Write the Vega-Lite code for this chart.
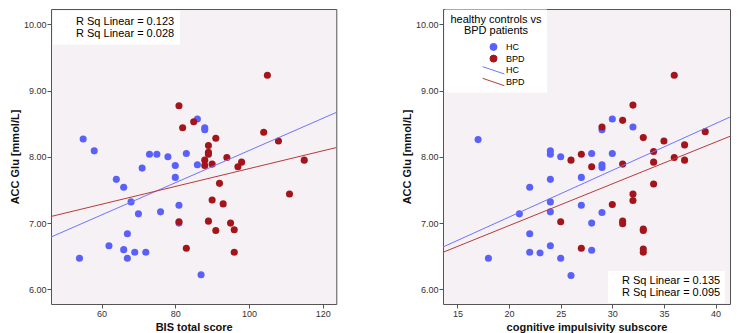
{
  "$schema": "https://vega.github.io/schema/vega-lite/v6.json",
  "padding": {"left": 8, "top": 8, "right": 5, "bottom": 2},
  "config": {
    "font": "Liberation Sans",
    "view": {"fill": "#f6f1f4", "stroke": "#555555", "strokeWidth": 1},
    "axis": {"domain": false, "grid": false, "tickColor": "#555555", "tickSize": 4, "labelFontSize": 9, "labelColor": "#333333", "labelPadding": 1, "titleFontSize": 11, "titleFontWeight": "bold", "titleColor": "#111111", "titlePadding": 3},
    "legend": {"labelFont": "Liberation Sans", "titleFont": "Liberation Sans", "labelColor": "black", "titleColor": "black"}
  },
  "datasets": {
    "bis": [
      {"group": "HC", "score": 54, "glu": 6.47}, {"group": "HC", "score": 55, "glu": 8.27}, {"group": "HC", "score": 58, "glu": 8.09}, {"group": "HC", "score": 62, "glu": 6.66},
      {"group": "HC", "score": 64, "glu": 7.66}, {"group": "HC", "score": 66, "glu": 7.54}, {"group": "HC", "score": 66, "glu": 6.60}, {"group": "HC", "score": 67, "glu": 6.84},
      {"group": "HC", "score": 67, "glu": 6.47}, {"group": "HC", "score": 68, "glu": 7.32}, {"group": "HC", "score": 69, "glu": 6.56}, {"group": "HC", "score": 70, "glu": 7.14},
      {"group": "HC", "score": 71, "glu": 7.83}, {"group": "HC", "score": 72, "glu": 6.56}, {"group": "HC", "score": 73, "glu": 8.04}, {"group": "HC", "score": 75, "glu": 8.04},
      {"group": "HC", "score": 76, "glu": 7.17}, {"group": "HC", "score": 78, "glu": 8.00}, {"group": "HC", "score": 80, "glu": 7.87}, {"group": "HC", "score": 80, "glu": 7.69},
      {"group": "HC", "score": 81, "glu": 7.27}, {"group": "HC", "score": 81, "glu": 7.00}, {"group": "HC", "score": 83, "glu": 8.05}, {"group": "HC", "score": 86, "glu": 8.57},
      {"group": "HC", "score": 86, "glu": 7.88}, {"group": "HC", "score": 87, "glu": 6.22}, {"group": "HC", "score": 88, "glu": 8.44}, {"group": "HC", "score": 88, "glu": 8.41},
      {"group": "BPD", "score": 81, "glu": 8.77}, {"group": "BPD", "score": 82, "glu": 8.44}, {"group": "BPD", "score": 85, "glu": 8.53}, {"group": "BPD", "score": 105, "glu": 9.23},
      {"group": "BPD", "score": 104, "glu": 8.37}, {"group": "BPD", "score": 108, "glu": 8.24}, {"group": "BPD", "score": 91, "glu": 8.28}, {"group": "BPD", "score": 89, "glu": 8.17},
      {"group": "BPD", "score": 89, "glu": 8.07}, {"group": "BPD", "score": 89, "glu": 8.04}, {"group": "BPD", "score": 94, "glu": 7.99}, {"group": "BPD", "score": 88, "glu": 7.95},
      {"group": "BPD", "score": 88, "glu": 7.87}, {"group": "BPD", "score": 90, "glu": 7.89}, {"group": "BPD", "score": 97, "glu": 7.85}, {"group": "BPD", "score": 98, "glu": 7.92},
      {"group": "BPD", "score": 115, "glu": 7.95}, {"group": "BPD", "score": 111, "glu": 7.44}, {"group": "BPD", "score": 92, "glu": 7.60}, {"group": "BPD", "score": 90, "glu": 7.35},
      {"group": "BPD", "score": 93, "glu": 7.29}, {"group": "BPD", "score": 81, "glu": 7.02}, {"group": "BPD", "score": 89, "glu": 7.03}, {"group": "BPD", "score": 95, "glu": 7.00},
      {"group": "BPD", "score": 91, "glu": 6.89}, {"group": "BPD", "score": 96, "glu": 6.90}, {"group": "BPD", "score": 83, "glu": 6.62}, {"group": "BPD", "score": 96, "glu": 6.56}
    ],
    "cog": [
      {"group": "HC", "score": 17, "glu": 8.26}, {"group": "HC", "score": 18, "glu": 6.47}, {"group": "HC", "score": 21, "glu": 7.14}, {"group": "HC", "score": 22, "glu": 7.54},
      {"group": "HC", "score": 22, "glu": 6.84}, {"group": "HC", "score": 22, "glu": 6.56}, {"group": "HC", "score": 23, "glu": 6.55}, {"group": "HC", "score": 24, "glu": 8.09},
      {"group": "HC", "score": 24, "glu": 8.04}, {"group": "HC", "score": 24, "glu": 7.66}, {"group": "HC", "score": 24, "glu": 7.32}, {"group": "HC", "score": 24, "glu": 7.17},
      {"group": "HC", "score": 24, "glu": 6.66}, {"group": "HC", "score": 25, "glu": 8.00}, {"group": "HC", "score": 25, "glu": 6.47}, {"group": "HC", "score": 26, "glu": 6.21},
      {"group": "HC", "score": 27, "glu": 7.69}, {"group": "HC", "score": 27, "glu": 7.27}, {"group": "HC", "score": 28, "glu": 8.05}, {"group": "HC", "score": 28, "glu": 7.00},
      {"group": "HC", "score": 28, "glu": 6.59}, {"group": "HC", "score": 29, "glu": 7.88}, {"group": "HC", "score": 29, "glu": 7.84}, {"group": "HC", "score": 29, "glu": 8.41},
      {"group": "HC", "score": 29, "glu": 7.16}, {"group": "HC", "score": 30, "glu": 8.57}, {"group": "HC", "score": 30, "glu": 8.05}, {"group": "HC", "score": 32, "glu": 8.45},
      {"group": "BPD", "score": 26, "glu": 7.95}, {"group": "BPD", "score": 27, "glu": 8.04}, {"group": "BPD", "score": 28, "glu": 7.85}, {"group": "BPD", "score": 29, "glu": 8.45},
      {"group": "BPD", "score": 31, "glu": 8.55}, {"group": "BPD", "score": 32, "glu": 8.78}, {"group": "BPD", "score": 33, "glu": 8.29}, {"group": "BPD", "score": 34, "glu": 8.08},
      {"group": "BPD", "score": 35, "glu": 8.24}, {"group": "BPD", "score": 36, "glu": 9.23}, {"group": "BPD", "score": 37, "glu": 8.18}, {"group": "BPD", "score": 39, "glu": 8.38},
      {"group": "BPD", "score": 31, "glu": 7.89}, {"group": "BPD", "score": 34, "glu": 7.92}, {"group": "BPD", "score": 36, "glu": 7.99}, {"group": "BPD", "score": 37, "glu": 7.95},
      {"group": "BPD", "score": 34, "glu": 7.59}, {"group": "BPD", "score": 32, "glu": 7.44}, {"group": "BPD", "score": 32, "glu": 7.34}, {"group": "BPD", "score": 30, "glu": 7.28},
      {"group": "BPD", "score": 25, "glu": 7.02}, {"group": "BPD", "score": 31, "glu": 7.03}, {"group": "BPD", "score": 31, "glu": 6.99}, {"group": "BPD", "score": 33, "glu": 6.91},
      {"group": "BPD", "score": 33, "glu": 6.89}, {"group": "BPD", "score": 27, "glu": 6.62}, {"group": "BPD", "score": 33, "glu": 6.61}, {"group": "BPD", "score": 33, "glu": 6.56}
    ],
    "bisfit": [
      {"fit": "HC line", "rsq": 0.123, "score": 46.27, "glu": 6.79}, {"fit": "HC line", "rsq": 0.123, "score": 123.7, "glu": 8.67},
      {"fit": "BPD line", "rsq": 0.028, "score": 46.27, "glu": 7.10}, {"fit": "BPD line", "rsq": 0.028, "score": 123.7, "glu": 8.14}
    ],
    "cogfit": [
      {"fit": "HC line", "rsq": 0.135, "score": 13.6, "glu": 6.64}, {"fit": "HC line", "rsq": 0.135, "score": 41.4, "glu": 8.60},
      {"fit": "BPD line", "rsq": 0.095, "score": 13.6, "glu": 6.56}, {"fit": "BPD line", "rsq": 0.095, "score": 41.4, "glu": 8.31}
    ]
  },
  "resolve": {
    "scale": {"color": "independent", "shape": "independent", "opacity": "independent", "x": "independent", "y": "independent"},
    "legend": {"color": "independent", "shape": "independent", "opacity": "independent"}
  },
  "spacing": 63,
  "hconcat": [
    {
      "width": 285.3,
      "height": 295,
      "layer": [
        {
          "data": {"name": "bis"},
          "mark": {"type": "point", "filled": true, "size": 50, "opacity": 1, "shape": "circle"},
          "encoding": {
            "x": {"field": "score", "type": "quantitative", "scale": {"domain": [46.27, 123.7], "nice": false, "zero": false}, "axis": {"values": [60, 80, 100, 120], "title": "BIS total score"}},
            "y": {"field": "glu", "type": "quantitative", "scale": {"domain": [5.78, 10.23], "nice": false, "zero": false}, "axis": {"values": [6, 7, 8, 9, 10], "format": ".2f", "title": "ACC Glu [mmol/L]"}},
            "color": {"field": "group", "type": "nominal", "scale": {"domain": ["HC", "BPD", "HC line", "BPD line"], "range": ["#5a60fa", "#a3151a", "#6f74ff", "#b83a3a"]}, "legend": null}
          }
        },
        {
          "data": {"name": "bisfit"},
          "mark": {"type": "line", "strokeWidth": 1, "clip": true},
          "encoding": {
            "x": {"field": "score", "type": "quantitative"},
            "y": {"field": "glu", "type": "quantitative"},
            "color": {"field": "fit", "type": "nominal", "legend": null},
            "opacity": {"field": "rsq", "type": "ordinal", "sort": "descending", "scale": {"range": [1, 1]},
              "legend": {"orient": "none", "legendX": 2, "legendY": 1.7, "title": null, "fillColor": "white", "padding": 5, "symbolSize": 0.01, "symbolStrokeWidth": 0, "symbolStrokeColor": "transparent", "symbolFillColor": "transparent", "labelOffset": 7, "labelFontSize": 11, "clipHeight": 12, "rowPadding": -1, "labelLimit": 300,
                "labelExpr": "datum.value > 0.1 ? 'R Sq Linear = ' + datum.label + '\u00a0' : '\u00a0R Sq Linear = ' + datum.label"}}
          }
        }
      ]
    },
    {
      "width": 287,
      "height": 295,
      "layer": [
        {
          "data": {"name": "cog"},
          "mark": {"type": "point", "filled": true, "size": 50, "opacity": 1},
          "encoding": {
            "x": {"field": "score", "type": "quantitative", "scale": {"domain": [13.6, 41.4], "nice": false, "zero": false}, "axis": {"values": [15, 20, 25, 30, 35, 40], "title": "cognitive impulsivity subscore"}},
            "y": {"field": "glu", "type": "quantitative", "scale": {"domain": [5.78, 10.23], "nice": false, "zero": false}, "axis": {"values": [6, 7, 8, 9, 10], "format": ".2f", "title": "ACC Glu [mmol/L]"}},
            "color": {"field": "group", "type": "nominal", "scale": {"domain": ["HC", "BPD", "HC line", "BPD line"], "range": ["#5a60fa", "#a3151a", "#6f74ff", "#b83a3a"]},
              "legend": {"orient": "none", "legendX": 2, "legendY": 0.4,
                "title": ["healthy controls vs\u00a0\u00a0\u00a0\u00a0\u00a0\u00a0\u00a0", "BPD patients\u00a0\u00a0\u00a0\u00a0\u00a0\u00a0\u00a0"],
                "titleFontSize": 11, "titleFontWeight": "normal", "titleAnchor": "middle", "titleAlign": "center", "titleLineHeight": 10.5, "titlePadding": 6, "titleLimit": 400,
                "fillColor": "white", "padding": 5, "symbolSize": 49, "symbolStrokeWidth": 1, "symbolOffset": 21, "labelOffset": 8, "labelFontSize": 9, "clipHeight": 10, "rowPadding": 1.7,
                "labelExpr": "replace(datum.label, ' line', '')"}
            },
            "shape": {"field": "group", "type": "nominal", "scale": {"domain": ["HC", "BPD", "HC line", "BPD line"], "range": ["circle", "circle", "M-3.1,-1.05L3.1,1.05", "M-3.1,-1.05L3.1,1.05"]},
              "legend": {"orient": "none", "legendX": 2, "legendY": 0.4,
                "title": ["healthy controls vs\u00a0\u00a0\u00a0\u00a0\u00a0\u00a0\u00a0", "BPD patients\u00a0\u00a0\u00a0\u00a0\u00a0\u00a0\u00a0"],
                "titleFontSize": 11, "titleFontWeight": "normal", "titleAnchor": "middle", "titleAlign": "center", "titleLineHeight": 10.5, "titlePadding": 6, "titleLimit": 400,
                "fillColor": "white", "padding": 5, "symbolSize": 49, "symbolStrokeWidth": 1, "symbolOffset": 21, "labelOffset": 8, "labelFontSize": 9, "clipHeight": 10, "rowPadding": 1.7,
                "labelExpr": "replace(datum.label, ' line', '')"}
            }
          }
        },
        {
          "data": {"name": "cogfit"},
          "mark": {"type": "line", "strokeWidth": 1, "clip": true},
          "encoding": {
            "x": {"field": "score", "type": "quantitative"},
            "y": {"field": "glu", "type": "quantitative"},
            "color": {"field": "fit", "type": "nominal"},
            "opacity": {"field": "rsq", "type": "ordinal", "sort": "descending", "scale": {"range": [1, 1]},
              "legend": {"orient": "none", "legendX": 165, "legendY": 262, "title": null, "fillColor": "white", "padding": 4, "symbolSize": 0.01, "symbolStrokeWidth": 0, "symbolStrokeColor": "transparent", "symbolFillColor": "transparent", "labelOffset": -1, "labelFontSize": 11, "clipHeight": 12, "rowPadding": -1, "labelLimit": 300,
                "labelExpr": "datum.value > 0.1 ? 'R Sq Linear = ' + datum.label + '\u00a0' : '\u00a0R Sq Linear = ' + datum.label"}}
          }
        }
      ]
    }
  ]
}
